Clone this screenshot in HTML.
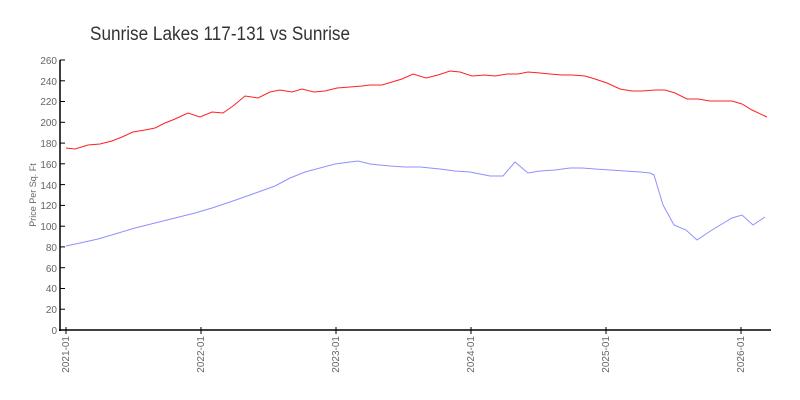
<!DOCTYPE html>
<html><head><meta charset="utf-8"><style>
body{margin:0;background:#fff;}
svg{display:block;font-family:"Liberation Sans",sans-serif;}
</style></head><body>
<svg width="800" height="400" viewBox="0 0 800 400" xmlns="http://www.w3.org/2000/svg">
<rect width="800" height="400" fill="#fff"/>
<text x="90" y="40" font-size="19" fill="#333" textLength="260" lengthAdjust="spacingAndGlyphs">Sunrise Lakes 117-131 vs Sunrise</text>
<text transform="translate(36,195) rotate(-90)" font-size="9" fill="#666" text-anchor="middle">Price Per Sq. Ft</text>
<g stroke="#000" stroke-width="1.5" fill="none">
<line x1="60" y1="60" x2="60" y2="331"/>
<line x1="59" y1="330" x2="771" y2="330"/>
</g>
<g font-size="10" fill="#666" text-anchor="end" stroke-width="1">
<g stroke="#000">
<line x1="60" y1="330" x2="65" y2="330"/><line x1="60" y1="309.2" x2="65" y2="309.2"/><line x1="60" y1="288.5" x2="65" y2="288.5"/><line x1="60" y1="267.7" x2="65" y2="267.7"/><line x1="60" y1="246.9" x2="65" y2="246.9"/><line x1="60" y1="226.2" x2="65" y2="226.2"/><line x1="60" y1="205.4" x2="65" y2="205.4"/><line x1="60" y1="184.6" x2="65" y2="184.6"/><line x1="60" y1="163.8" x2="65" y2="163.8"/><line x1="60" y1="143.1" x2="65" y2="143.1"/><line x1="60" y1="122.3" x2="65" y2="122.3"/><line x1="60" y1="101.5" x2="65" y2="101.5"/><line x1="60" y1="80.8" x2="65" y2="80.8"/><line x1="60" y1="60" x2="65" y2="60"/>
</g>
<text x="57" y="334">0</text><text x="57" y="313">20</text><text x="57" y="292">40</text><text x="57" y="272">60</text><text x="57" y="251">80</text><text x="57" y="230">100</text><text x="57" y="209">120</text><text x="57" y="189">140</text><text x="57" y="168">160</text><text x="57" y="147">180</text><text x="57" y="126">200</text><text x="57" y="105">220</text><text x="57" y="85">240</text><text x="57" y="64">260</text>
</g>
<g stroke="#ccc" stroke-width="1" id="minor"></g>
<g stroke="#000" stroke-width="1">
<line x1="66" y1="327" x2="66" y2="334"/><line x1="201" y1="327" x2="201" y2="334"/><line x1="336" y1="327" x2="336" y2="334"/><line x1="471" y1="327" x2="471" y2="334"/><line x1="606" y1="327" x2="606" y2="334"/><line x1="741" y1="327" x2="741" y2="334"/>
</g>
<g font-size="10" fill="#666" text-anchor="end">
<text transform="translate(69,336) rotate(-90)">2021-01</text>
<text transform="translate(204,336) rotate(-90)">2022-01</text>
<text transform="translate(339,336) rotate(-90)">2023-01</text>
<text transform="translate(474,336) rotate(-90)">2024-01</text>
<text transform="translate(609,336) rotate(-90)">2025-01</text>
<text transform="translate(744,336) rotate(-90)">2026-01</text>
</g>
<polyline fill="none" stroke="#ff2020" stroke-width="1" points="66,148 75,149 88,145 100,144 112,141 122,137 133,132 145,130 155,128 165,123 175,119 188,113 200,117 212,112 223,113 233,106 245,96 258,98 270,92 280,90 292,92 302,89 314,92 325,91 337,88 350,87 362,86 370,85 382,85 392,82 402,79 413,74 426,78 438,75 450,71 460,72 472,76 485,75 495,76 507,74 518,74 528,72 540,73 550,74 562,75 572,75 585,76 595,79 607,83 620,89 632,91 642,91 655,90 665,90 675,93 687,99 698,99 710,101 720,101 732,101 742,104 752,110 767,117"/>
<polyline fill="none" stroke="#9090ff" stroke-width="1" points="66,246 80,243 98,239 115,234 135,228 155,223 175,218 195,213 212,208 230,202 250,195 275,186 290,178 305,172 320,168 335,164 350,162 358,161 370,164 390,166 405,167 420,167 440,169 455,171 470,172 480,174 490,176 503,176 515,162 528,173 540,171 555,170 570,168 582,168 595,169 610,170 625,171 640,172 650,173 654,175 663,205 674,225 686,230 697,240 712,230 732,218 742,215 753,225 765,217"/>
<script>
var g=document.getElementById('minor'),s='';
for(var i=0;i<64;i++){var x=66+i*135/12;if(i%12)s+='<line x1="'+x+'" y1="331" x2="'+x+'" y2="334"/>';}
g.innerHTML=s;
</script>
</svg>
</body></html>
